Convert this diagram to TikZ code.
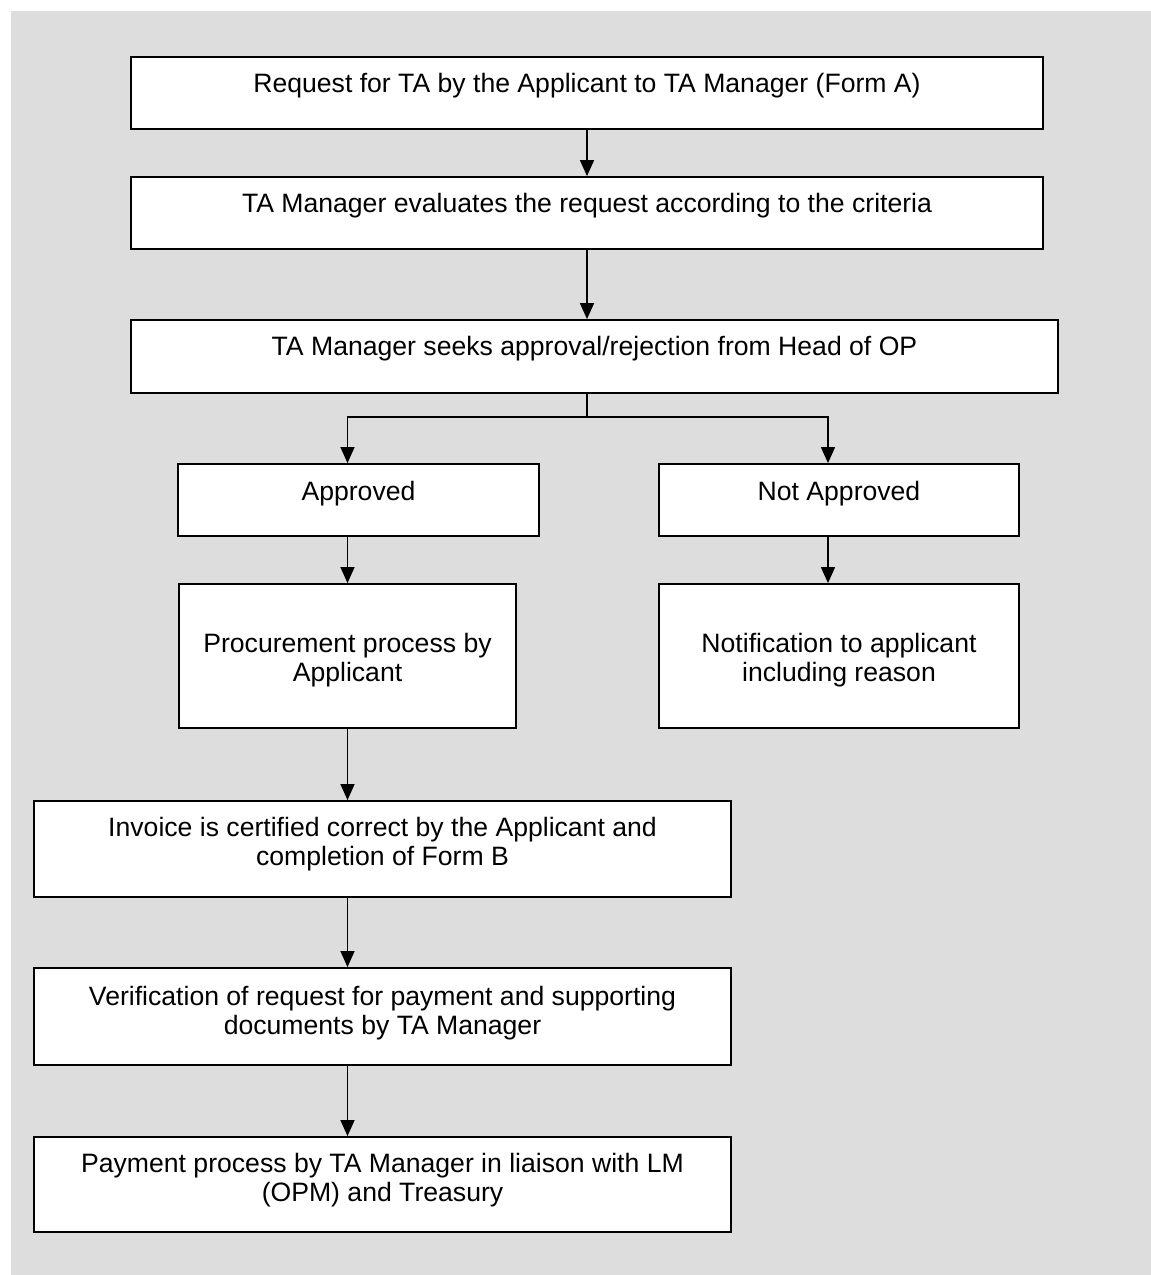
\documentclass[tikz,border=0pt]{standalone}
\usepackage{fontspec}
\setmainfont{Liberation Sans}
\usepackage{tikz}
\usetikzlibrary{arrows.meta,calc}
\definecolor{panelgray}{RGB}{221,221,221}

\begin{document}
\begin{tikzpicture}[x=0.5pt, y=-0.5pt,
  tabox/.style={draw, fill=white, line width=0.9pt, inner xsep=0pt, inner ysep=0pt,
    align=center, font=\fontsize{13.3}{14.5}\selectfont},
  flow/.style={line width=0.7pt, -{Triangle[length=8pt,width=7pt]}},
  link/.style={line width=0.7pt}]
% Page and grey panel
\useasboundingbox (0,0) rectangle (1151,1275);
\fill[panelgray] (11,11) rectangle (1151,1275);

% Request and evaluation
\node[tabox, minimum width=456pt, minimum height=36pt, text height=17.5pt, text depth=18.5pt] (request) at (587,93) {Request for TA by the Applicant to TA Manager (Form A)};
\node[tabox, minimum width=456pt, minimum height=36pt, text height=17.5pt, text depth=18.5pt] (evaluate) at (587,213) {TA Manager evaluates the request according to the criteria};
\node[tabox, minimum width=463.5pt, minimum height=36.5pt, text height=17.5pt, text depth=19pt] (seek) at (594.5,356.5) {TA Manager seeks approval/rejection from Head of OP};

% Decision
\node[tabox, minimum width=180.5pt, minimum height=36pt, text height=18pt, text depth=18pt] (approved) at (358.5,500) {Approved};
\node[tabox, minimum width=180pt, minimum height=36pt, text height=18pt, text depth=18pt] (notapproved) at (839,500) {Not Approved};
\node[tabox, minimum width=168.5pt, minimum height=72pt, text height=48.5pt, text depth=23.5pt] (procure) at (347.5,656) {Procurement process by\\Applicant};
\node[tabox, minimum width=180pt, minimum height=72pt, text height=48.5pt, text depth=23.5pt] (notify) at (839,656) {Notification to applicant\\including reason};

% Payment steps
\node[tabox, minimum width=348.5pt, minimum height=48pt, text height=32pt, text depth=16pt] (invoice) at (382.5,849) {Invoice is certified correct by the Applicant and\\completion of Form B};
\node[tabox, minimum width=348.5pt, minimum height=48.5pt, text height=33pt, text depth=15.5pt] (verify) at (382.5,1016.5) {Verification of request for payment and supporting\\documents by TA Manager};
\node[tabox, minimum width=348.5pt, minimum height=47.5pt, text height=32pt, text depth=15.5pt] (payment) at (382.5,1184.5) {Payment process by TA Manager in liaison with LM\\(OPM) and Treasury};

% Connectors
\coordinate (fork) at (587,417);
\coordinate (rightdrop) at (828,417);
\draw[flow] (request) -- (evaluate);
\draw[flow] (evaluate) -- (seek.north -| evaluate);
\draw[link] (seek.south -| fork) -- (fork);
\draw[flow] (fork) -| (approved.north -| procure.north);
\draw[flow] (fork) -- (rightdrop) -- (rightdrop |- notapproved.north);
\draw[flow] (approved.south -| procure.north) -- (procure.north);
\draw[flow] (notapproved.south -| rightdrop) -- (notify.north -| rightdrop);
\draw[flow] (procure.south) -- (invoice.north -| procure.south);
\draw[flow] (invoice.south -| procure.south) -- (verify.north -| procure.south);
\draw[flow] (verify.south -| procure.south) -- (payment.north -| procure.south);
\end{tikzpicture}
\end{document}
